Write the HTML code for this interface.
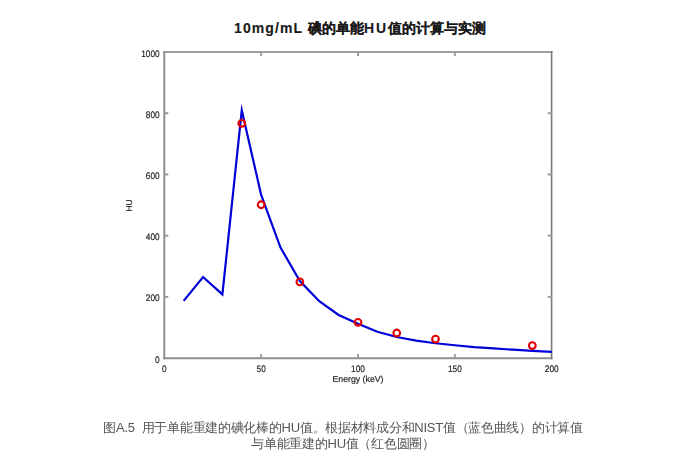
<!DOCTYPE html>
<html><head><meta charset="utf-8">
<style>
html,body{margin:0;padding:0;background:#fff;width:678px;height:461px;overflow:hidden;}
body{position:relative;font-family:"Liberation Sans",sans-serif;}
.title{position:absolute;left:0;width:720px;top:19px;text-align:center;font-size:14px;font-weight:bold;color:#1a1a1a;-webkit-text-stroke:0.12px #1a1a1a;white-space:nowrap;line-height:18px;}
.cap{position:absolute;left:0;width:686px;top:420px;text-align:center;font-size:13px;letter-spacing:-0.28px;color:#555;line-height:15.5px;white-space:nowrap;}
svg{position:absolute;left:0;top:0;will-change:transform;}
</style></head><body>
<div class="title"><span style="letter-spacing:1.1px;margin-right:1px">10mg/mL</span> 碘的单能<span style="letter-spacing:1.9px;margin-left:-0.2px">HU</span>值的计算与实测</div>
<svg width="678" height="461" viewBox="0 0 678 461">
<g fill="none">
<line x1="163.3" y1="52" x2="552.5" y2="52" stroke="#a0a0a0" stroke-width="2"/>
<line x1="163.3" y1="358.3" x2="552.5" y2="358.3" stroke="#8e8e8e" stroke-width="2"/>
<line x1="164.3" y1="51" x2="164.3" y2="359.3" stroke="#8f8f8f" stroke-width="2"/>
<line x1="551.6" y1="51" x2="551.6" y2="359.3" stroke="#7a7a7a" stroke-width="1.6"/>
</g>
<g stroke="#9c9c9c" stroke-width="2">
<line x1="261.15" y1="358.1" x2="261.15" y2="354.1"/><line x1="261.15" y1="52" x2="261.15" y2="56"/><line x1="358.00" y1="358.1" x2="358.00" y2="354.1"/><line x1="358.00" y1="52" x2="358.00" y2="56"/><line x1="454.85" y1="358.1" x2="454.85" y2="354.1"/><line x1="454.85" y1="52" x2="454.85" y2="56"/><line x1="164.3" y1="296.88" x2="168.3" y2="296.88"/><line x1="551.7" y1="296.88" x2="547.7" y2="296.88"/><line x1="164.3" y1="235.66" x2="168.3" y2="235.66"/><line x1="551.7" y1="235.66" x2="547.7" y2="235.66"/><line x1="164.3" y1="174.44" x2="168.3" y2="174.44"/><line x1="551.7" y1="174.44" x2="547.7" y2="174.44"/><line x1="164.3" y1="113.22" x2="168.3" y2="113.22"/><line x1="551.7" y1="113.22" x2="547.7" y2="113.22"/>
</g>
<polyline points="183.67,300.86 203.04,276.98 222.41,294.43 241.78,110.16 261.15,194.95 280.52,247.60 299.89,280.96 319.26,301.17 338.63,314.94 358.00,323.82 377.37,331.78 396.74,336.98 416.11,340.65 435.48,343.25 454.85,345.24 474.22,347.08 493.59,348.46 512.96,349.68 532.33,350.91 551.70,351.82" fill="none" stroke="#0000d8" stroke-width="2.2" stroke-linejoin="miter" stroke-miterlimit="10"/>
<circle cx="241.78" cy="123.32" r="3.35" fill="none" stroke="#e60000" stroke-width="2.1"/>
<circle cx="261.15" cy="204.74" r="3.35" fill="none" stroke="#e60000" stroke-width="2.1"/>
<circle cx="299.89" cy="281.88" r="3.35" fill="none" stroke="#e60000" stroke-width="2.1"/>
<circle cx="358.00" cy="322.29" r="3.35" fill="none" stroke="#e60000" stroke-width="2.1"/>
<circle cx="396.74" cy="333.00" r="3.35" fill="none" stroke="#e60000" stroke-width="2.1"/>
<circle cx="435.48" cy="339.12" r="3.35" fill="none" stroke="#e60000" stroke-width="2.1"/>
<circle cx="532.33" cy="345.55" r="3.35" fill="none" stroke="#e60000" stroke-width="2.1"/>
<g font-family="Liberation Sans, sans-serif" text-rendering="geometricPrecision" font-size="8.75" fill="#222" stroke="#222" stroke-width="0.18">
<text transform="translate(164.30,372.1) scale(0.87,1)" text-anchor="middle" font-size="9.5">0</text>
<text transform="translate(261.15,372.1) scale(0.87,1)" text-anchor="middle" font-size="9.5">50</text>
<text transform="translate(358.00,372.1) scale(0.87,1)" text-anchor="middle" font-size="9.5">100</text>
<text transform="translate(454.85,372.1) scale(0.87,1)" text-anchor="middle" font-size="9.5">150</text>
<text transform="translate(551.70,372.1) scale(0.87,1)" text-anchor="middle" font-size="9.5">200</text>
<text transform="translate(159.6,362.70) scale(0.87,1)" text-anchor="end" font-size="9.5">0</text>
<text transform="translate(159.6,301.48) scale(0.87,1)" text-anchor="end" font-size="9.5">200</text>
<text transform="translate(159.6,240.26) scale(0.87,1)" text-anchor="end" font-size="9.5">400</text>
<text transform="translate(159.6,179.04) scale(0.87,1)" text-anchor="end" font-size="9.5">600</text>
<text transform="translate(159.6,117.82) scale(0.87,1)" text-anchor="end" font-size="9.5">800</text>
<text transform="translate(159.6,56.60) scale(0.87,1)" text-anchor="end" font-size="9.5">1000</text>
<text x="358" y="381.5" text-anchor="middle">Energy (keV)</text>
<text transform="translate(131.95,205.4) rotate(-90)" text-anchor="middle" font-size="8.3">HU</text>
</g>
</svg>
<div class="cap">图A.5<span style="display:inline-block;width:7px"></span>用于单能重建的碘化棒的HU值。根据材料成分和NIST值（蓝色曲线）的计算值<br>与单能重建的HU值（红色圆圈）</div>
</body></html>
